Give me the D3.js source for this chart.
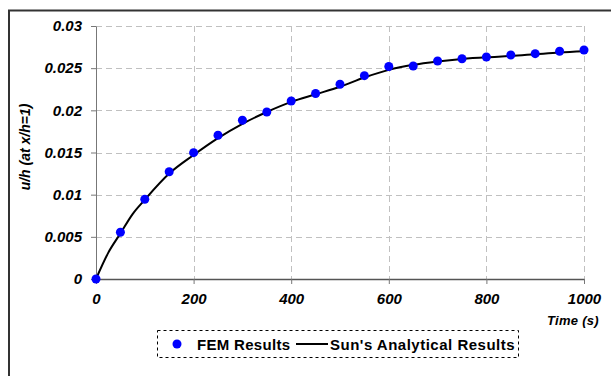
<!DOCTYPE html>
<html>
<head>
<meta charset="utf-8">
<script src="https://cdn.jsdelivr.net/npm/d3@7"></script>
<style>
  body { margin: 0; background: #fff; }
  text { font-family: "Liberation Sans", Arial, sans-serif; }
</style>
</head>
<body>
<div id="chart"></div>
<script>
// FEM results (points) and Sun's analytical curve
const femTime = [0, 50, 100, 150, 200, 250, 300, 350, 400, 450, 500, 550, 600, 650, 700, 750, 800, 850, 900, 950, 1000];
const femValue = [0, 0.00554, 0.00945, 0.01272, 0.01498, 0.01704, 0.01882, 0.0198, 0.0211, 0.0220, 0.02309, 0.02411, 0.02520, 0.02526, 0.02585, 0.02612, 0.02632, 0.02656, 0.02672, 0.02700, 0.02716];

const sunTime = [0, 25, 50, 75, 100, 150, 200, 250, 300, 350, 400, 450, 500, 550, 600, 650, 700, 750, 800, 850, 900, 950, 1000];
const sunValue = [0, 0.0031, 0.0054, 0.0077, 0.0094, 0.0125, 0.0147, 0.0167, 0.0184, 0.0198, 0.0210, 0.0219, 0.0228, 0.0239, 0.0248, 0.0254, 0.0258, 0.0261, 0.0263, 0.02644, 0.02665, 0.02686, 0.0270];

const xTicks = [0, 200, 400, 600, 800, 1000];
const yTicks = [0, 0.005, 0.01, 0.015, 0.02, 0.025, 0.03];

const W = 611, H = 376;
const margin = {top: 26, right: 27, bottom: 97, left: 96};
const width = W - margin.left - margin.right;
const height = H - margin.top - margin.bottom;

const svg = d3.select("#chart").append("svg")
    .attr("width", W)
    .attr("height", H);

// outer frame (only left and top edges are in view)
svg.append("rect")
    .attr("x", 9).attr("y", 10.5)
    .attr("width", 800).attr("height", 600)
    .attr("fill", "none")
    .attr("stroke", "#333")
    .attr("stroke-width", 2);

const g = svg.append("g")
    .attr("transform", `translate(${margin.left},${margin.top})`);

const x = d3.scaleLinear().domain([0, 1000]).range([0, width]);
const y = d3.scaleLinear().domain([0, 0.03]).range([height, 0]);

// grid
g.append("g").selectAll("line.h")
    .data(yTicks.filter(d => d > 0))
    .enter().append("line")
    .attr("x1", 0).attr("x2", width)
    .attr("y1", d => Math.round(y(d)) + 0.5).attr("y2", d => Math.round(y(d)) + 0.5)
    .attr("stroke", "#c0c0c0")
    .attr("stroke-dasharray", "6,4");
g.append("g").selectAll("line.v")
    .data(xTicks.filter(d => d > 0))
    .enter().append("line")
    .attr("y1", 0).attr("y2", height)
    .attr("x1", d => Math.round(x(d)) + 0.5).attr("x2", d => Math.round(x(d)) + 0.5)
    .attr("stroke", "#c0c0c0")
    .attr("stroke-dasharray", "6,4");

// axes
const xAxis = g.append("g")
    .attr("transform", `translate(0,${height})`)
    .call(d3.axisBottom(x).tickValues(xTicks).tickSize(5).tickSizeOuter(0).tickPadding(9).tickFormat(d3.format("d")));
const yAxis = g.append("g")
    .call(d3.axisLeft(y).tickValues(yTicks).tickSize(5).tickSizeOuter(0).tickPadding(9).tickFormat(d => d === 0 ? "0" : String(+d.toFixed(3))));

xAxis.select(".domain").attr("stroke", "#555").attr("stroke-width", 1.5);
yAxis.select(".domain").attr("stroke", "#777");
xAxis.selectAll(".tick line").attr("stroke", "#777");
yAxis.selectAll(".tick line").attr("stroke", "#777");
[xAxis, yAxis].forEach(a => a.selectAll(".tick text")
    .attr("fill", "#000")
    .style("font-size", "15px")
    .style("font-weight", "bold")
    .style("font-style", "italic")
    .style("font-family", "'Liberation Sans', Arial, sans-serif"));

// analytical curve
const line = d3.line()
    .x((d, i) => x(sunTime[i]))
    .y(d => y(d))
    .curve(d3.curveMonotoneX);
g.append("path")
    .datum(sunValue)
    .attr("d", line)
    .attr("fill", "none")
    .attr("stroke", "#000")
    .attr("stroke-width", 2);

// FEM points
g.append("g").selectAll("circle")
    .data(femValue)
    .enter().append("circle")
    .attr("cx", (d, i) => x(femTime[i]))
    .attr("cy", d => y(d))
    .attr("r", 4.5)
    .attr("fill", "#0000ff");

// axis titles
svg.append("text")
    .attr("transform", `translate(30,147) rotate(-90)`)
    .attr("text-anchor", "middle")
    .style("font-size", "14px")
    .style("font-weight", "bold")
    .style("font-style", "italic")
    .text("u/h (at x/h=1)");

svg.append("text")
    .attr("x", 599).attr("y", 325)
    .attr("text-anchor", "end")
    .style("font-size", "13px")
    .style("font-weight", "bold")
    .style("font-style", "italic")
    .style("letter-spacing", "0.3px")
    .text("Time (s)");

// legend
const legend = svg.append("g");
legend.append("rect")
    .attr("x", 157.5).attr("y", 330.5)
    .attr("width", 361).attr("height", 27)
    .attr("fill", "#fff")
    .attr("stroke", "#000")
    .attr("stroke-dasharray", "3,3");
legend.append("circle")
    .attr("cx", 177).attr("cy", 344).attr("r", 4.5)
    .attr("fill", "#0000ff");
legend.append("text")
    .attr("x", 197).attr("y", 349.5)
    .style("font-size", "15px")
    .style("font-weight", "bold")
    .style("letter-spacing", "0.3px")
    .text("FEM Results");
legend.append("line")
    .attr("x1", 296).attr("x2", 328)
    .attr("y1", 344).attr("y2", 344)
    .attr("stroke", "#000").attr("stroke-width", 2);
legend.append("text")
    .attr("x", 330).attr("y", 349.5)
    .style("font-size", "15px")
    .style("font-weight", "bold")
    .style("letter-spacing", "0.5px")
    .text("Sun's Analytical Results");
</script>
</body>
</html>
